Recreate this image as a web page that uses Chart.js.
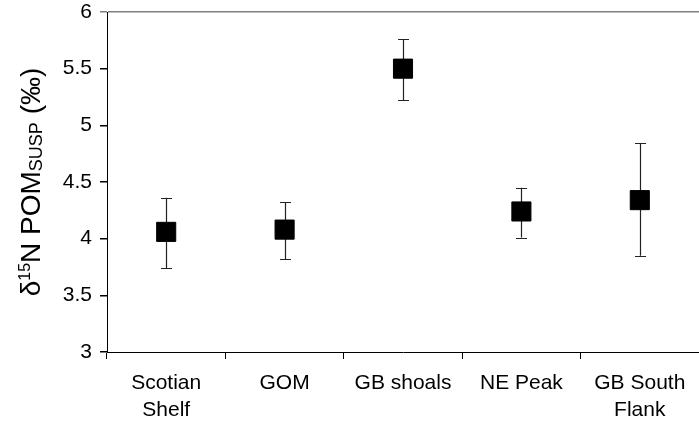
<!DOCTYPE html>
<html>
<head>
<meta charset="utf-8">
<title>d15N POM</title>
<script src="https://cdn.jsdelivr.net/npm/chart.js@4/dist/chart.umd.min.js"></script>
<style>
  html, body { margin: 0; padding: 0; background: #fff; }
  #wrap { width: 699px; height: 425px; position: relative; }
</style>
</head>
<body>
<div id="wrap"><canvas id="chart"></canvas></div>
<script>
const regions = [["Scotian", "Shelf"], "GOM", "GB shoals", "NE Peak", ["GB South", "Flank"]];
const meanN15 = [4.06, 4.08, 5.50, 4.24, 4.34];
const upperN15 = [4.36, 4.32, 5.76, 4.45, 4.84];
const lowerN15 = [3.74, 3.82, 5.22, 4.01, 3.85];
const yMin = 3;
const yMax = 6;
const yStep = 0.5;

const FONT = "'Liberation Sans', Arial, sans-serif";

// whiskers go under the square markers
const errorBars = {
  id: "errorBars",
  beforeDatasetsDraw(chart) {
    const { ctx, scales: { x, y } } = chart;
    ctx.save();
    ctx.strokeStyle = "#222";
    ctx.lineWidth = 1.2;
    meanN15.forEach((m, i) => {
      const px = Math.round(x.getPixelForValue(i)) + 0.5;
      const top = y.getPixelForValue(upperN15[i]);
      const bot = y.getPixelForValue(lowerN15[i]);
      ctx.beginPath();
      ctx.moveTo(px, top);
      ctx.lineTo(px, bot);
      ctx.moveTo(px - 5.5, Math.round(top) + 0.5);
      ctx.lineTo(px + 5.5, Math.round(top) + 0.5);
      ctx.moveTo(px - 5.5, Math.round(bot) + 0.5);
      ctx.lineTo(px + 5.5, Math.round(bot) + 0.5);
      ctx.stroke();
    });
    ctx.restore();
  },
};

// rotated y title with superscript / subscript parts
const yTitle = {
  id: "yTitle",
  afterDraw(chart) {
    const { ctx, chartArea } = chart;
    const parts = [
      { t: "\u03B4", size: 28, shift: 0 },
      { t: "15", size: 16, shift: -10 },
      { t: "N POM", size: 28, shift: 0 },
      { t: "SUSP", size: 18, shift: 2 },
      { t: " (\u2030)", size: 28, shift: 0 },
    ];
    ctx.save();
    let total = 0;
    parts.forEach((p) => {
      ctx.font = p.size + "px " + FONT;
      p.w = ctx.measureText(p.t).width;
      total += p.w;
    });
    const cy = (chartArea.top + chartArea.bottom) / 2;
    ctx.translate(40, cy);
    ctx.rotate(-Math.PI / 2);
    ctx.fillStyle = "#000";
    ctx.textBaseline = "alphabetic";
    ctx.textAlign = "left";
    let cx = -total / 2;
    parts.forEach((p) => {
      ctx.font = p.size + "px " + FONT;
      ctx.fillText(p.t, cx, p.shift);
      cx += p.w;
    });
    ctx.restore();
  },
};

const data = {
  labels: regions,
  datasets: [
    {
      data: meanN15,
      showLine: false,
      pointStyle: "rect",
      pointRadius: 13.5,
      pointBackgroundColor: "#000",
      pointBorderColor: "#000",
      pointBorderWidth: 1,
    },
  ],
};

const config = {
  type: "line",
  data: data,
  options: {
    responsive: true,
    maintainAspectRatio: false,
    animation: false,
    layout: {
      autoPadding: false,
      padding: { left: 0, top: 12, right: 0, bottom: 0 },
    },
    plugins: {
      legend: { display: false },
      tooltip: { enabled: false },
    },
    scales: {
      x: {
        offset: true,
        afterFit: (scale) => {
          scale.height = 73;
          scale.paddingLeft = 0;
          scale.paddingRight = 0;
        },
        grid: {
          offset: true,
          drawOnChartArea: false,
          tickLength: 7,
          tickColor: "#000",
        },
        border: { color: "#000", width: 1 },
        ticks: {
          color: "#000",
          padding: 11,
          maxRotation: 0,
          font: { family: FONT, size: 21, lineHeight: 1.29 },
        },
      },
      y: {
        min: yMin,
        max: yMax,
        afterFit: (scale) => {
          scale.width = 107;
          scale.paddingTop = 0;
          scale.paddingBottom = 0;
        },
        grid: {
          color: (ctx) => (ctx.tick && ctx.tick.value === yMax ? "#808080" : "rgba(0,0,0,0)"),
          lineWidth: 1.5,
          tickLength: 7,
          tickColor: (ctx) => (ctx.tick && ctx.tick.value === yMax ? "#808080" : "#000"),
        },
        border: { color: "#000", width: 1 },
        ticks: {
          stepSize: yStep,
          color: "#000",
          padding: 8,
          font: { family: FONT, size: 21 },
          callback: (value) => String(Number(value)),
        },
      },
    },
  },
  plugins: [errorBars, yTitle],
};

const myChart = new Chart(document.getElementById("chart"), config);
</script>
</body>
</html>
